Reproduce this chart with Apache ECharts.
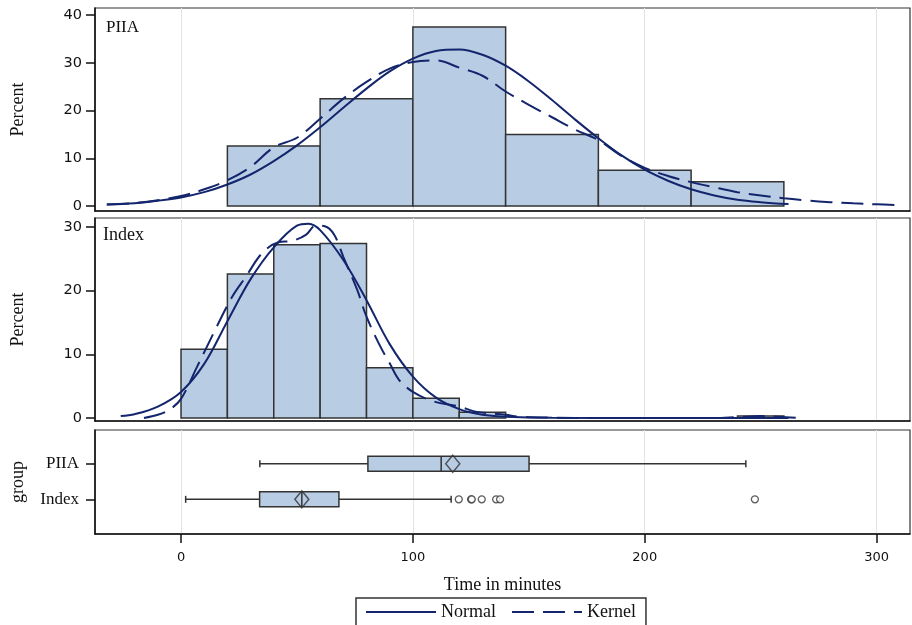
<!DOCTYPE html>
<html>
<head>
<meta charset="utf-8">
<script src="https://cdn.jsdelivr.net/npm/echarts@6/dist/echarts.min.js"></script>
<style>
html, body { margin: 0; padding: 0; background: #fff; }
#chart { width: 912px; height: 625px; }
</style>
</head>
<body>
<div id="chart"></div>
<script>
// histogram bins, percent of each group (bin start, width is fixed per group)
const piiaBinStart = [20, 60, 100, 140, 180, 220];
const piiaPct = [12.6, 22.5, 37.5, 15.0, 7.5, 5.1];
const indexBinStart = [0, 20, 40, 60, 80, 100, 120, 240];
const indexPct = [10.8, 22.6, 27.2, 27.4, 7.9, 3.1, 0.9, 0.3];

// normal / kernel density curves (percent)
const piiaNormalX = [-32, -20, -10, 0, 10, 20, 30, 40, 50, 60, 70, 80, 90, 100, 110, 120, 130, 140, 150, 160, 170, 180, 190, 200, 210, 220, 230, 240, 250, 262];
const piiaNormalY = [0.3, 0.6, 1.1, 1.8, 2.9, 4.5, 6.6, 9.4, 12.7, 16.5, 20.6, 24.6, 28.2, 30.9, 32.5, 32.8, 31.7, 29.4, 26.1, 22.2, 18.1, 14.2, 10.6, 7.6, 5.3, 3.5, 2.2, 1.3, 0.8, 0.4];
const piiaKernelX = [-32, -20, -10, 0, 10, 20, 30, 40, 50, 60, 70, 80, 90, 100, 110, 120, 130, 140, 150, 160, 170, 180, 190, 200, 210, 220, 230, 240, 250, 260, 270, 280, 290, 300, 308];
const piiaKernelY = [0.3, 0.6, 1.2, 2.1, 3.5, 5.4, 8.2, 12.3, 14.3, 18.3, 22.5, 26.0, 28.8, 30.2, 30.5, 29.0, 27.3, 24.0, 21.2, 18.6, 16.0, 13.8, 10.5, 8.0, 6.3, 5.0, 3.9, 2.9, 2.2, 1.6, 1.15, 0.8, 0.55, 0.35, 0.2];
const indexNormalX = [-26, -20, -10, 0, 10, 20, 30, 40, 50, 55, 60, 70, 80, 90, 100, 110, 120, 130, 140, 160, 200, 262];
const indexNormalY = [0.3, 0.6, 1.8, 4.1, 8.5, 15.2, 21.8, 26.8, 30.2, 30.5, 29.5, 24.8, 18.5, 11.6, 6.5, 3.2, 1.4, 0.5, 0.2, 0.03, 0, 0];
const indexKernelX = [-16, -10, -5, 0, 7, 14, 22, 28, 35, 42, 48, 54, 58, 62, 66, 70, 76, 80, 86, 90, 94, 100, 109, 120, 127, 140, 146, 160, 180, 230, 240, 250, 258, 266];
const indexKernelY = [0, 0.5, 1.3, 3.0, 8.1, 13.3, 19.0, 22.2, 25.9, 27.6, 27.8, 28.8, 30.2, 30.1, 28.8, 25.3, 20.1, 15.9, 11.2, 8.6, 6.0, 4.1, 2.6, 1.8, 1.0, 0.5, 0.2, 0.05, 0, 0, 0.15, 0.3, 0.2, 0];

// box plot summary (minutes); index 0 = Index, 1 = PIIA
const groups = ['Index', 'PIIA'];
const boxMin = [2, 34];
const boxQ1 = [33.9, 80.6];
const boxMedian = [52.1, 112.2];
const boxQ3 = [68.1, 150.1];
const boxMax = [116.5, 243.6];
const boxMean = [52.1, 117.2];
const indexOutliers = [119.8, 125.1, 125.4, 129.7, 135.9, 137.6, 247.5];

const xTicks = [0, 100, 200, 300];
const navy = '#13256c';
const fillBlue = '#b8cce4';
const edge = '#333';
const serif = '"Liberation Serif", "DejaVu Serif", serif';
const sans = '"DejaVu Sans", sans-serif';

const pairs = (xs, ys) => xs.map((x, i) => [x, ys[i]]);

const histItem = (params, api) => {
  const a = api.coord([api.value(0), api.value(2)]);
  const b = api.coord([api.value(1), 0]);
  return {
    type: 'rect',
    shape: { x: a[0], y: a[1], width: b[0] - a[0], height: b[1] - a[1] },
    style: { fill: fillBlue, stroke: edge, lineWidth: 1.5 },
  };
};

const boxItem = (params, api) => {
  const g = api.value(0);
  const p = (d) => api.coord([api.value(d), g]);
  const lo = p(1), q1 = p(2), md = p(3), q3 = p(4), hi = p(5);
  const y = lo[1];
  const h = 15, cap = 7;
  const ls = { stroke: edge, lineWidth: 1.5 };
  return {
    type: 'group',
    children: [
      { type: 'line', shape: { x1: lo[0], y1: y, x2: q1[0], y2: y }, style: ls },
      { type: 'line', shape: { x1: q3[0], y1: y, x2: hi[0], y2: y }, style: ls },
      { type: 'line', shape: { x1: lo[0], y1: y - cap / 2, x2: lo[0], y2: y + cap / 2 }, style: ls },
      { type: 'line', shape: { x1: hi[0], y1: y - cap / 2, x2: hi[0], y2: y + cap / 2 }, style: ls },
      { type: 'rect', shape: { x: q1[0], y: y - h / 2, width: q3[0] - q1[0], height: h }, style: { fill: fillBlue, stroke: edge, lineWidth: 1.5 } },
      { type: 'line', shape: { x1: md[0], y1: y - h / 2, x2: md[0], y2: y + h / 2 }, style: ls },
    ],
  };
};

const xAxisBase = (gridIndex, showLabels) => ({
  type: 'value',
  gridIndex,
  min: -37.1,
  max: 314.4,
  axisLine: { show: true, onZero: false, lineStyle: { color: '#111', width: 1.5 } },
  axisTick: { show: showLabels, customValues: xTicks, length: 9, lineStyle: { color: '#111', width: 1.5 } },
  axisLabel: { show: showLabels, customValues: xTicks, color: '#111', fontFamily: sans, fontSize: 13, margin: 17 },
  splitLine: { show: true, lineStyle: { color: '#e3e3e3', width: 1 } },
});

const pctAxis = (gridIndex, min, max, ticks) => ({
  type: 'value',
  gridIndex,
  min,
  max,
  name: 'Percent',
  nameLocation: 'middle',
  nameGap: 68,
  nameTextStyle: { fontFamily: serif, fontSize: 18, color: '#111' },
  axisLine: { show: true, onZero: false, lineStyle: { color: '#111', width: 1.5 } },
  axisTick: { show: true, customValues: ticks, length: 9, lineStyle: { color: '#111', width: 1.5 } },
  axisLabel: { customValues: ticks, color: '#111', fontFamily: sans, fontSize: 14.5, margin: 13 },
  splitLine: { show: false },
});

const gridBase = { left: 95, right: 2, show: true, borderColor: edge, borderWidth: 1.2, backgroundColor: '#fff' };

const chart = echarts.init(document.getElementById('chart'));
chart.setOption({
  animation: false,
  backgroundColor: '#fff',
  grid: [
    { ...gridBase, top: 8, height: 203 },
    { ...gridBase, top: 218, height: 203 },
    { ...gridBase, top: 430, height: 104 },
  ],
  xAxis: [
    xAxisBase(0, false),
    xAxisBase(1, false),
    {
      ...xAxisBase(2, true),
      name: 'Time in minutes',
      nameLocation: 'middle',
      nameGap: 42,
      nameTextStyle: { fontFamily: serif, fontSize: 18, color: '#111' },
    },
  ],
  yAxis: [
    pctAxis(0, -1.05, 41.5, [0, 10, 20, 30, 40]),
    pctAxis(1, -0.47, 31.4, [0, 10, 20, 30]),
    {
      type: 'value',
      gridIndex: 2,
      min: -0.975,
      max: 1.95,
      name: 'group',
      nameLocation: 'middle',
      nameGap: 68,
      nameTextStyle: { fontFamily: serif, fontSize: 18, color: '#111' },
      axisLine: { show: true, onZero: false, lineStyle: { color: '#111', width: 1.5 } },
      axisTick: { show: true, customValues: [0, 1], length: 9, lineStyle: { color: '#111', width: 1.5 } },
      axisLabel: {
        customValues: [0, 1],
        formatter: (v) => groups[v] || '',
        color: '#111',
        fontFamily: serif,
        fontSize: 17,
        margin: 16,
      },
      splitLine: { show: false },
    },
  ],
  legend: {
    data: ['Normal', 'Kernel'],
    left: 356,
    top: 598,
    padding: [5, 10, 5, 9],
    borderColor: edge,
    borderWidth: 1.5,
    itemWidth: 70,
    itemHeight: 14,
    itemGap: 15,
    itemStyle: { opacity: 0 },
    textStyle: { fontFamily: serif, fontSize: 18, color: '#111' },
  },
  graphic: [
    { type: 'text', left: 106, top: 19, style: { text: 'PIIA', font: '17px "Liberation Serif"', fill: '#111' } },
    { type: 'text', left: 103, top: 226, style: { text: 'Index', font: '18px "Liberation Serif"', fill: '#111' } },
  ],
  series: [
    {
      type: 'custom',
      xAxisIndex: 0,
      yAxisIndex: 0,
      renderItem: histItem,
      encode: { x: [0, 1], y: 2 },
      data: piiaBinStart.map((s, i) => [s, s + 40, piiaPct[i]]),
      z: 1,
    },
    {
      type: 'custom',
      xAxisIndex: 1,
      yAxisIndex: 1,
      renderItem: histItem,
      encode: { x: [0, 1], y: 2 },
      data: indexBinStart.map((s, i) => [s, s + 20, indexPct[i]]),
      z: 1,
    },
    {
      name: 'Normal',
      type: 'line',
      xAxisIndex: 0,
      yAxisIndex: 0,
      data: pairs(piiaNormalX, piiaNormalY),
      smooth: 0.35,
      symbol: 'none',
      lineStyle: { color: navy, width: 2 },
      itemStyle: { color: navy },
      z: 3,
    },
    {
      name: 'Kernel',
      type: 'line',
      xAxisIndex: 0,
      yAxisIndex: 0,
      data: pairs(piiaKernelX, piiaKernelY),
      smooth: 0.35,
      symbol: 'none',
      lineStyle: { color: navy, width: 2, type: [22, 9] },
      itemStyle: { color: navy },
      z: 3,
    },
    {
      name: 'Normal',
      type: 'line',
      xAxisIndex: 1,
      yAxisIndex: 1,
      data: pairs(indexNormalX, indexNormalY),
      smooth: 0.35,
      symbol: 'none',
      lineStyle: { color: navy, width: 2 },
      itemStyle: { color: navy },
      z: 3,
    },
    {
      name: 'Kernel',
      type: 'line',
      xAxisIndex: 1,
      yAxisIndex: 1,
      data: pairs(indexKernelX, indexKernelY),
      smooth: 0.35,
      symbol: 'none',
      lineStyle: { color: navy, width: 2, type: [22, 9] },
      itemStyle: { color: navy },
      z: 3,
    },
    {
      type: 'custom',
      xAxisIndex: 2,
      yAxisIndex: 2,
      renderItem: boxItem,
      encode: { x: [1, 2, 3, 4, 5], y: 0 },
      data: groups.map((g, i) => [i, boxMin[i], boxQ1[i], boxMedian[i], boxQ3[i], boxMax[i]]),
      z: 2,
    },
    {
      type: 'scatter',
      xAxisIndex: 2,
      yAxisIndex: 2,
      symbol: 'diamond',
      symbolSize: [14, 17],
      data: boxMean.map((m, i) => [m, i]),
      itemStyle: { color: 'rgba(0,0,0,0)', borderColor: edge, borderWidth: 1.5 },
      z: 4,
    },
    {
      type: 'scatter',
      xAxisIndex: 2,
      yAxisIndex: 2,
      symbol: 'circle',
      symbolSize: 7,
      data: indexOutliers.map((v) => [v, 0]),
      itemStyle: { color: '#fff', borderColor: edge, borderWidth: 1.3 },
      z: 4,
    },
  ],
});
</script>
</body>
</html>
